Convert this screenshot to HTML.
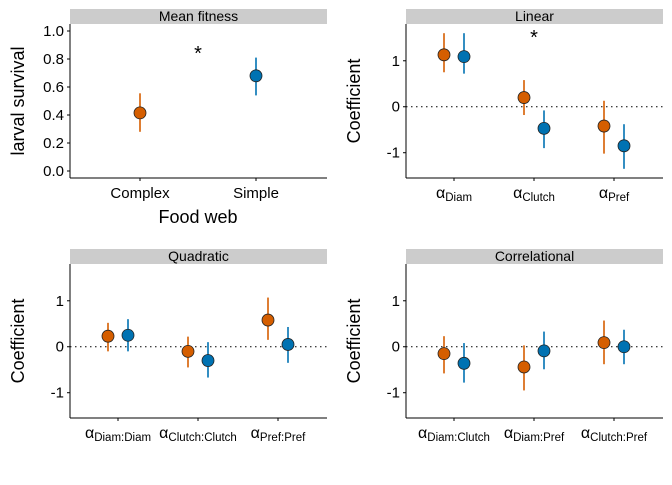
<!DOCTYPE html>
<html><head><meta charset="utf-8"><style>
html,body{margin:0;padding:0;background:#fff}
svg text{font-family:"Liberation Sans",sans-serif;fill:#000}
</style></head><body>
<svg id="c" width="672" height="480" xmlns="http://www.w3.org/2000/svg"></svg>
<script>
const NS="http://www.w3.org/2000/svg";
const svg=document.getElementById('c');
const ORANGE="#D55E00", BLUE="#0072B2";
// Mean fitness
const meanCats=["Complex","Simple"];
const meanVals=[0.415,0.68];
const meanLo=[0.28,0.54];
const meanHi=[0.555,0.81];
// Linear
const linCats=["Diam","Clutch","Pref"];
const linOrange=[1.13,0.2,-0.42];
const linOrangeLo=[0.75,-0.18,-1.02];
const linOrangeHi=[1.6,0.58,0.13];
const linBlue=[1.09,-0.47,-0.85];
const linBlueLo=[0.72,-0.9,-1.35];
const linBlueHi=[1.6,-0.08,-0.38];
// Quadratic
const quadCats=["Diam:Diam","Clutch:Clutch","Pref:Pref"];
const quadOrange=[0.23,-0.1,0.58];
const quadOrangeLo=[-0.1,-0.45,0.15];
const quadOrangeHi=[0.52,0.22,1.07];
const quadBlue=[0.25,-0.3,0.05];
const quadBlueLo=[-0.1,-0.67,-0.35];
const quadBlueHi=[0.6,0.1,0.43];
// Correlational
const corCats=["Diam:Clutch","Diam:Pref","Clutch:Pref"];
const corOrange=[-0.15,-0.44,0.09];
const corOrangeLo=[-0.58,-0.95,-0.38];
const corOrangeHi=[0.23,0.03,0.57];
const corBlue=[-0.36,-0.09,0];
const corBlueLo=[-0.78,-0.49,-0.38];
const corBlueHi=[0.08,0.33,0.37];
const coefTicks=[-1,0,1];
const meanTicks=[0,0.2,0.4,0.6,0.8,1.0];

function el(tag,attrs,parent){const e=document.createElementNS(NS,tag);for(const k in attrs)e.setAttribute(k,attrs[k]);(parent||svg).appendChild(e);return e;}
function txt(s,attrs,parent){const t=el('text',attrs,parent);t.textContent=s;return t;}

function panel(name,title,x0,x1,top,bottom,ymin,ymax,ticks,fmt,ylab){
  const g=el('g',{});
  
  
  const sy=v=>bottom-(v-ymin)/(ymax-ymin)*(bottom-top);
  const strip=el('rect',{x:x0,y:top-15,width:x1-x0,height:15,fill:'#cccccc'},g);
  
  
  const st=txt(title,{x:(x0+x1)/2,y:top-3,'text-anchor':'middle','font-size':14},g);
  
  
  el('line',{x1:x0,y1:top,x2:x0,y2:bottom,stroke:'#000','stroke-width':1},g);
  el('line',{x1:x0,y1:bottom,x2:x1,y2:bottom,stroke:'#000','stroke-width':1},g);
  ticks.forEach(t=>{const y=sy(t);
    el('line',{x1:x0-3,y1:y,x2:x0,y2:y,stroke:'#000'},g);
    const tl=txt(fmt(t),{x:x0-6,y:y+5,'text-anchor':'end','font-size':15,fill:'#000'},g);
    
    
  });
  const yl=txt(ylab,{x:0,y:0,'text-anchor':'middle','font-size':18,transform:`translate(${x0-46},${(top+bottom)/2}) rotate(-90)`},g);
  
  
  return {g,sy};
}
function pt(g,x,v,lo,hi,col,sy){
  el('line',{x1:x,y1:sy(lo),x2:x,y2:sy(hi),stroke:col,'stroke-width':1.6},g);
  const c=el('circle',{cx:x,cy:sy(v),r:6,fill:col,stroke:'#222','stroke-width':0.8},g);
  
  
}
function coefPanel(name,title,x0,top,bottom,cats,o,ol,oh,b,bl,bh,star){
  const x1=x0+257;
  const p=panel(name,title,x0,x1,top,bottom,-1.55,1.8,coefTicks,t=>String(t),'Coefficient');
  const g=p.g, sy=p.sy;
  el('line',{x1:x0,y1:sy(0),x2:x1,y2:sy(0),stroke:'#000','stroke-dasharray':'1.5,3.5'},g);
  const cx=i=>x0+48+i*80;
  cats.forEach((c,i)=>{
    el('line',{x1:cx(i),y1:bottom,x2:cx(i),y2:bottom+3,stroke:'#000'},g);
    const t=txt('',{x:cx(i),y:bottom+20,'text-anchor':'middle','font-size':16},g);
    
    
    const a=document.createElementNS(NS,'tspan');a.textContent='α';t.appendChild(a);
    const s=document.createElementNS(NS,'tspan');s.setAttribute('font-size','11.5');s.setAttribute('dy','3');s.textContent=c;t.appendChild(s);
    pt(g,cx(i)-10,o[i],ol[i],oh[i],ORANGE,sy);
    pt(g,cx(i)+10,b[i],bl[i],bh[i],BLUE,sy);
  });
  if(star!==undefined){const s=txt('*',{x:cx(star),y:top+20,'text-anchor':'middle','font-size':20},g);
    }
}
// Mean fitness panel
(function(){
  const x0=70,x1=327,top=24,bottom=178;
  const p=panel('mean-fitness-panel','Mean fitness',x0,x1,top,bottom,-0.05,1.05,meanTicks,t=>t.toFixed(1),'larval survival');
  const g=p.g, sy=p.sy;
  const cx=i=>140+i*116;
  meanCats.forEach((c,i)=>{
    el('line',{x1:cx(i),y1:bottom,x2:cx(i),y2:bottom+3,stroke:'#000'},g);
    const t=txt(c,{x:cx(i),y:bottom+20,'text-anchor':'middle','font-size':15},g);
    
    
    pt(g,cx(i),meanVals[i],meanLo[i],meanHi[i],i==0?ORANGE:BLUE,sy);
  });
  const s=txt('*',{x:198,y:60,'text-anchor':'middle','font-size':20},g);
  
  const xt=txt('Food web',{x:198,y:223,'text-anchor':'middle','font-size':18},g);
  
})();
coefPanel('linear-panel','Linear',406,24,178,linCats,linOrange,linOrangeLo,linOrangeHi,linBlue,linBlueLo,linBlueHi,1);
coefPanel('quadratic-panel','Quadratic',70,264,418,quadCats,quadOrange,quadOrangeLo,quadOrangeHi,quadBlue,quadBlueLo,quadBlueHi);
coefPanel('correlational-panel','Correlational',406,264,418,corCats,corOrange,corOrangeLo,corOrangeHi,corBlue,corBlueLo,corBlueHi);
</script>
</body></html>
